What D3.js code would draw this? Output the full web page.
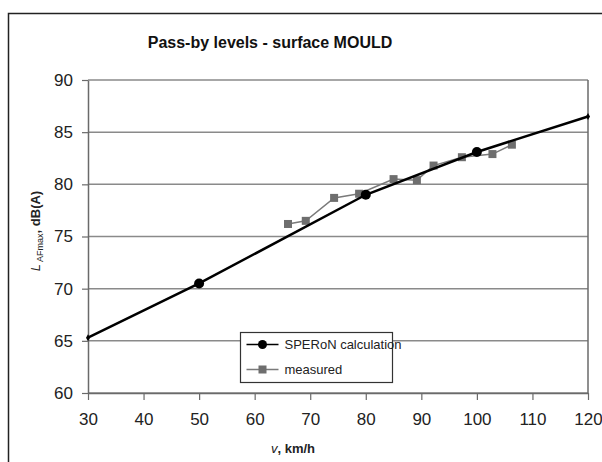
<!DOCTYPE html>
<html>
<head>
<meta charset="utf-8">
<script src="https://cdn.jsdelivr.net/npm/d3@7"></script>
<style>
  body { margin: 0; background: #fff; }
  svg { font-family: Arial, "Liberation Sans", sans-serif; }
</style>
</head>
<body>
<div id="chart"></div>
<script>
// SPERoN calculation (line end points + calculated speeds)
const calcSpeed = [30, 50, 80, 100, 120];
const calcLevel = [65.3, 70.5, 79.0, 83.1, 86.5];
const calcShown = [false, true, true, true, false];

// measured pass-by levels
const measSpeed = [66.0, 69.2, 74.3, 78.8, 85.0, 89.2, 92.2, 97.3, 102.8, 106.3];
const measLevel = [76.2, 76.5, 78.7, 79.1, 80.5, 80.4, 81.8, 82.6, 82.9, 83.8];

const xTicks = [30, 40, 50, 60, 70, 80, 90, 100, 110, 120];
const yTicks = [60, 65, 70, 75, 80, 85, 90];
const legendLabels = ["SPERoN calculation", "measured"];

const width = 602, height = 462;
const margin = { left: 88, right: 14, top: 80, bottom: 69 };

const svg = d3.select("#chart").append("svg")
    .attr("width", width)
    .attr("height", height);

// outer frame (runs off the right / bottom edges like the scan)
svg.append("rect")
    .attr("x", 8.5).attr("y", 13.5)
    .attr("width", 700).attr("height", 600)
    .attr("fill", "none")
    .attr("stroke", "#222")
    .attr("stroke-width", 1.5);

const x = d3.scaleLinear().domain([30, 120]).range([margin.left, width - margin.right]);
const y = d3.scaleLinear().domain([60, 90]).range([height - margin.bottom, margin.top]);

svg.append("text")
    .attr("x", 270).attr("y", 48)
    .attr("text-anchor", "middle")
    .attr("font-size", 16)
    .attr("font-weight", "bold")
    .attr("fill", "#111")
    .text("Pass-by levels - surface MOULD");

// grid lines
svg.append("g")
    .selectAll("line")
    .data(yTicks)
    .enter()
    .append("line")
    .attr("x1", x(30)).attr("x2", x(120))
    .attr("y1", d => y(d)).attr("y2", d => y(d))
    .attr("stroke", "#8a8a8a")
    .attr("stroke-width", 1.5);

// right border of plot area
svg.append("line")
    .attr("x1", x(120)).attr("x2", x(120))
    .attr("y1", y(90)).attr("y2", y(60))
    .attr("stroke", "#6a6a6a")
    .attr("stroke-width", 1.5);

const yAxis = d3.axisLeft(y).tickValues(yTicks).tickSize(6).tickSizeOuter(0).tickPadding(9);
const gy = svg.append("g")
    .attr("transform", `translate(${x(30)},0)`)
    .call(yAxis);

const xAxis = d3.axisBottom(x).tickValues(xTicks).tickSize(7).tickSizeOuter(0).tickPadding(13);
const gx = svg.append("g")
    .attr("transform", `translate(0,${y(60)})`)
    .call(xAxis);

[gx, gy].forEach(g => {
    g.select(".domain").attr("stroke", "#6a6a6a").attr("stroke-width", 1.5);
    g.selectAll(".tick line").attr("stroke", "#6a6a6a").attr("stroke-width", 1.2);
    g.selectAll(".tick text")
        .attr("font-size", 17)
        .attr("font-family", "Arial, 'Liberation Sans', sans-serif")
        .attr("fill", "#222");
});

// axis titles
const yt = svg.append("text")
    .attr("transform", "translate(40,231) rotate(-90)")
    .attr("text-anchor", "middle")
    .attr("font-size", 13)
    .attr("fill", "#222");
yt.append("tspan").attr("font-style", "italic").text("L");
yt.append("tspan").attr("font-size", 9).attr("dy", 3).text(" AFmax");
yt.append("tspan").attr("dy", -3).attr("font-weight", "bold").text(", dB(A)");

const xt = svg.append("text")
    .attr("x", 293).attr("y", 453)
    .attr("text-anchor", "middle")
    .attr("font-size", 13)
    .attr("font-weight", "bold")
    .attr("fill", "#222");
xt.append("tspan").attr("font-style", "italic").attr("font-weight", "normal").text("v");
xt.append("tspan").text(", km/h");

// series
const calcData = calcSpeed.map((v, i) => ({ v, l: calcLevel[i], shown: calcShown[i] }));
const measData = measSpeed.map((v, i) => ({ v, l: measLevel[i] }));

const line = d3.line().x(d => x(d.v)).y(d => y(d.l));

svg.append("path")
    .datum(measData)
    .attr("d", line)
    .attr("fill", "none")
    .attr("stroke", "#7a7a7a")
    .attr("stroke-width", 1.5);

svg.append("g")
    .selectAll("rect")
    .data(measData)
    .enter()
    .append("rect")
    .attr("x", d => x(d.v) - 4)
    .attr("y", d => y(d.l) - 4)
    .attr("width", 8).attr("height", 8)
    .attr("fill", "#6e6e6e");

svg.append("path")
    .datum(calcData)
    .attr("d", line)
    .attr("fill", "none")
    .attr("stroke", "#000")
    .attr("stroke-width", 2.5);

svg.append("g")
    .selectAll("circle")
    .data(calcData.filter(d => d.shown))
    .enter()
    .append("circle")
    .attr("cx", d => x(d.v))
    .attr("cy", d => y(d.l))
    .attr("r", 5)
    .attr("fill", "#000");

// tiny end markers
svg.append("g")
    .selectAll("path")
    .data(calcData.filter(d => !d.shown))
    .enter()
    .append("path")
    .attr("d", d3.symbol(d3.symbolDiamond, 14))
    .attr("transform", d => `translate(${x(d.v)},${y(d.l)})`)
    .attr("fill", "#000");

// legend
const legend = svg.append("g").attr("transform", "translate(240.5,332.5)");
legend.append("rect")
    .attr("width", 152).attr("height", 50)
    .attr("fill", "#fff")
    .attr("stroke", "#333")
    .attr("stroke-width", 1.2);

legendLabels.forEach((label, i) => {
    const ly = 12 + i * 25;
    legend.append("line")
        .attr("x1", 6).attr("x2", 38)
        .attr("y1", ly).attr("y2", ly)
        .attr("stroke", i === 0 ? "#000" : "#7a7a7a")
        .attr("stroke-width", 1.5);
    if (i === 0) {
        legend.append("circle").attr("cx", 22).attr("cy", ly).attr("r", 4.5).attr("fill", "#000");
    } else {
        legend.append("rect").attr("x", 18).attr("y", ly - 4).attr("width", 8).attr("height", 8).attr("fill", "#6e6e6e");
    }
    legend.append("text")
        .attr("x", 44).attr("y", ly + 4.5)
        .attr("font-size", 13)
        .attr("fill", "#222")
        .text(label);
});
</script>
</body>
</html>
